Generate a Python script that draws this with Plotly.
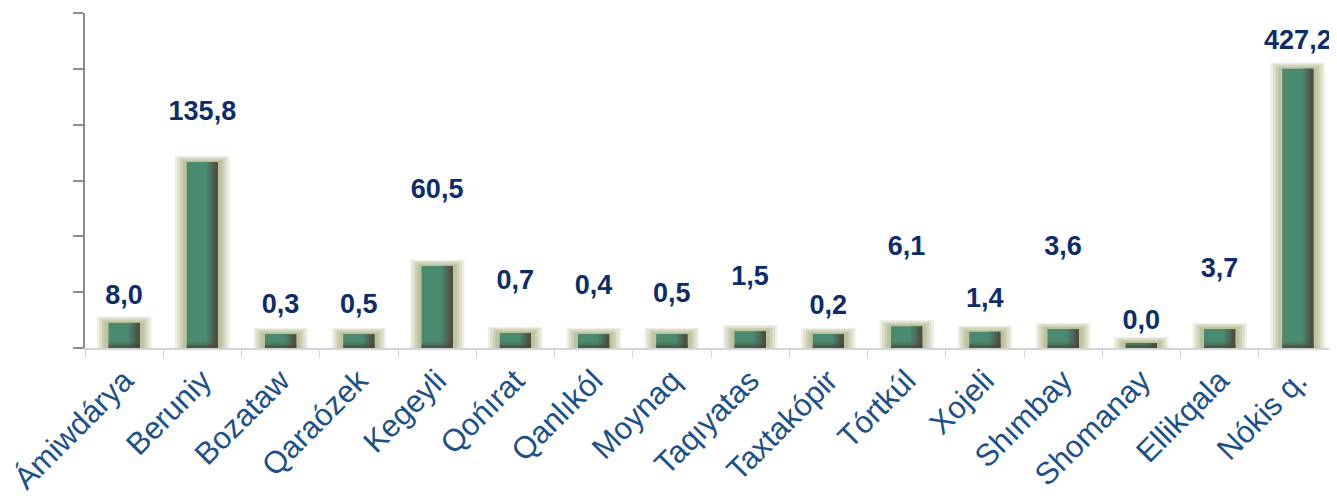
import plotly.graph_objects as go

# districts (Karakalpakstan)
districts = [
    "Ámiwdárya", "Beruniy", "Bozataw", "Qaraózek", "Kegeyli", "Qońırat",
    "Qanlıkól", "Moynaq", "Taqıyatas", "Taxtakópir", "Tórtkúl", "Xojeli",
    "Shımbay", "Shomanay", "Ellikqala", "Nókis q.",
]
# value labels as printed on the chart
value_labels = [
    "8,0", "135,8", "0,3", "0,5", "60,5", "0,7", "0,4", "0,5",
    "1,5", "0,2", "6,1", "1,4", "3,6", "0,0", "3,7", "427,2",
]
# bar heights (axis has no tick labels, 0..600 units)
bar_heights = [45, 333, 25, 25, 147, 27, 25, 25, 30, 25, 39, 29, 34, 9, 34, 500]
# where the value labels sit (axis units)
label_y = [91, 421, 75, 75, 280, 117, 108, 95, 125, 73, 179, 86, 179, 47, 140, 547]

GREEN = "#4a8a6e"
NAVY = "#0c2c6c"
TICK_BLUE = "#1c5088"
FONT = "Arial, Liberation Sans, sans-serif"

fig = go.Figure()

# soft olive glow behind each bar, a few layers
glow_layers = [
    (0.70, 11, "rgba(210,214,188,0.35)"),
    (0.64, 9, "rgba(200,205,172,0.45)"),
    (0.57, 6, "rgba(190,196,158,0.55)"),
    (0.50, 3, "rgba(182,188,148,0.65)"),
]
for width, pad, color in glow_layers:
    fig.add_trace(go.Bar(
        x=districts,
        y=[h + pad for h in bar_heights],
        width=width,
        marker=dict(color=color, line=dict(width=0)),
        hoverinfo="skip",
        showlegend=False,
    ))

# main green bar
fig.add_trace(go.Bar(
    x=districts,
    y=bar_heights,
    width=0.4,
    marker=dict(color=GREEN, line=dict(width=0)),
    hovertemplate="%{x}<extra></extra>",
    showlegend=False,
))

# darker shading towards the right edge
shade = ["#4b8269", "#4c7a64", "#4d715e", "#4e6757", "#4f5d4f", "#4f5446", "#4f4e40"]
for k, color in enumerate(shade):
    fig.add_trace(go.Bar(
        x=districts,
        y=bar_heights,
        width=0.02,
        offset=0.06 + k * 0.02,
        marker=dict(color=color, line=dict(width=0)),
        hoverinfo="skip",
        showlegend=False,
    ))

# darker band at the bottom
for frac, color in [(10, "rgba(70,70,55,0.25)"), (6, "rgba(70,70,55,0.35)"), (3, "rgba(70,70,55,0.45)")]:
    fig.add_trace(go.Bar(
        x=districts,
        y=[min(h, frac) for h in bar_heights],
        width=0.4,
        marker=dict(color=color, line=dict(width=0)),
        hoverinfo="skip",
        showlegend=False,
    ))

# value labels
fig.add_trace(go.Scatter(
    x=districts,
    y=label_y,
    mode="text",
    text=value_labels,
    textposition="middle center",
    textfont=dict(family=FONT, size=27, color=NAVY, weight="bold"),
    hoverinfo="skip",
    showlegend=False,
    cliponaxis=False,
))

# title, mostly cut off at the top of the picture
fig.add_annotation(
    text="<b>(mlrd. swmda)</b>",
    xref="paper", yref="paper",
    x=0.521, y=1, yanchor="bottom", yshift=12,
    showarrow=False,
    font=dict(family=FONT, size=24, color=NAVY),
)

fig.update_xaxes(
    range=[-0.5, 15.5],
    automargin=False,
    showline=True,
    linecolor="#d4d4d4",
    linewidth=2,
    ticks="outside",
    tickson="boundaries",
    ticklen=8,
    tickcolor="#d4d4d4",
    tickwidth=1,
    tickangle=-45,
    tickfont=dict(family=FONT, size=31, color=TICK_BLUE),
    showgrid=False,
    zeroline=False,
)
fig.update_yaxes(
    range=[0, 600],
    dtick=100,
    automargin=False,
    showline=True,
    linecolor="#8c8c8c",
    linewidth=2,
    ticks="outside",
    ticklen=10,
    tickcolor="#8c8c8c",
    tickwidth=2,
    showticklabels=False,
    showgrid=False,
    zeroline=False,
)

# the page body keeps an 8px margin, so the figure is sized to fit inside it
fig.update_layout(
    width=1329,
    height=488,
    barmode="overlay",
    margin=dict(l=77, r=0, t=5, b=148),
    plot_bgcolor="white",
    paper_bgcolor="white",
    font=dict(family=FONT),
)

fig.write_html("out.html")
